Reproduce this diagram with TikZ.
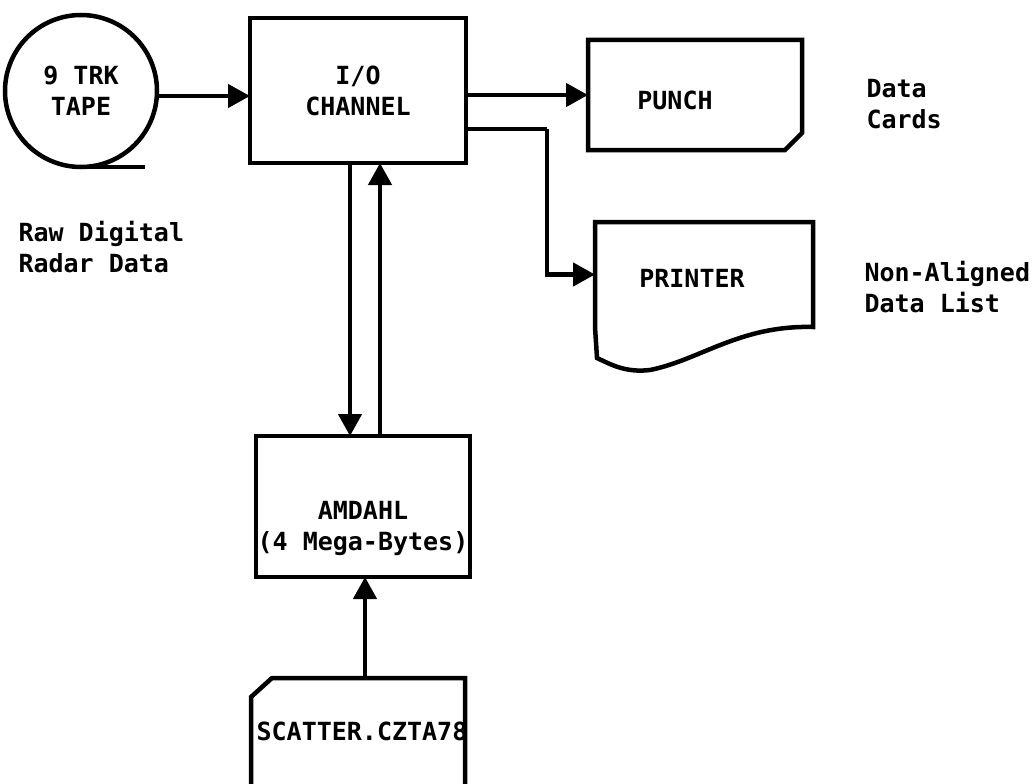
\documentclass[tikz,border=0pt]{standalone}
\usepackage{fontspec}
\setmonofont{DejaVu Sans Mono}
\usetikzlibrary{positioning, calc, arrows.meta}
\definecolor{Ink}{HTML}{000000}
\tikzset{
    txt/.style={font=\ttfamily\bfseries\fontsize{25}{31}\selectfont, text=Ink, align=center},
    unitbox/.style={txt, rectangle, inner sep=0pt, outer sep=0pt, draw=Ink, line width=4.5pt},
    shell/.style={rectangle, inner sep=0pt, outer sep=0pt},
    tag/.style={txt, align=left, anchor=west},
    edge/.style={line width=4.5pt, draw=Ink, line join=miter},
    flow/.style={edge, -{Triangle[length=22pt, width=23pt]}},
}
\begin{document}
\begin{tikzpicture}[x=1pt, y=-1pt]
    \useasboundingbox (0,0) rectangle (1036,784);

    % Tape and channel
    \node[unitbox, circle, minimum size=152pt] (tape) at (81,91) {9 TRK\\TAPE};
    \draw[edge] (tape.south) -- ++(64,0);
    \node[unitbox, minimum width=216pt, minimum height=145pt] (io) at (358,90.5) {I/O\\CHANNEL};
    \draw[flow] ([yshift=-5pt]tape.east) -- ([yshift=-5pt]tape.east -| io.west);

    % Punch (card)
    \node[shell, minimum width=214pt, minimum height=110pt,
          label={[txt, xshift=-20pt, yshift=-5pt]center:PUNCH}] (punch) at (695,95) {};
    \draw[edge] (punch.north west) -- (punch.north east) -- ([yshift=17pt]punch.south east)
        -- ([xshift=-17pt]punch.south east) -- (punch.south west) -- cycle;
    \draw[flow] (io.east |- punch.west) -- (punch.west);

    % Printer (document)
    \node[shell, minimum width=218pt, minimum height=105pt,
          label={[txt, xshift=-12pt, yshift=-4pt]center:PRINTER}] (printer) at (704,274.5) {};
    \draw[edge] (printer.south west) -- (printer.north west) -- (printer.north east) -- (printer.south east)
        .. controls (740,325) and (700,360) .. (650,370)
        .. controls (625,373) and (610,364) .. (597,358) -- cycle;
    \coordinate (split) at (547,129);
    \draw[edge] (io.east |- split) -- (split);
    \draw[flow] (split) |- (printer.west);

    % Computer
    \node[unitbox, minimum width=214pt, minimum height=141pt] (amdahl) at (363,506.5) {};
    \node[txt, yshift=-22pt] at (amdahl.center) {AMDAHL\\(4 Mega-Bytes)};
    \draw[flow] ([xshift=-8pt]io.south) -- ([xshift=-8pt]io.south |- amdahl.north);
    \draw[flow] ([xshift=22pt]io.south |- amdahl.north) -- ([xshift=22pt]io.south);

    % Scatter file (card, runs off the page)
    \node[shell, minimum width=214pt, minimum height=122pt,
          label={[txt, xshift=4pt, yshift=8pt]center:SCATTER.CZTA78}] (scatter) at (358,739) {};
    \draw[edge] (scatter.south west) -- ([yshift=-19pt]scatter.north west) -- ([xshift=21pt]scatter.north west)
        -- (scatter.north east) -- (scatter.south east);
    \draw[flow] ([xshift=7pt]scatter.north) -- ([xshift=7pt]scatter.north |- amdahl.south);

    % Notes
    \node[tag] (raw) at (15,247) {Raw Digital\\Radar Data};
    \node[tag] (cards) at (863,104) {Data\\Cards};
    \node[tag] (list) at (861,287) {Non-Aligned\\Data List};
\end{tikzpicture}
\end{document}
